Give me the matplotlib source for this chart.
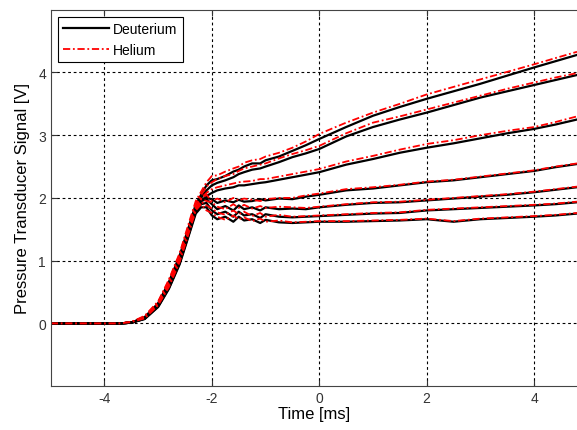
import numpy as np
import matplotlib.pyplot as plt

plt.rcParams['font.family'] = ['Liberation Sans', 'DejaVu Sans']
plt.rcParams['axes.unicode_minus'] = False

# time axis [ms]
t = [-5.0, -3.7, -3.5, -3.25, -3.0, -2.8, -2.6, -2.4,
     -2.3, -2.2, -2.1, -2.0, -1.9, -1.75, -1.6, -1.5, -1.4, -1.25, -1.1, -1.0, -0.75, -0.5, -0.25, 0.0,
     0.5, 1.0, 1.5, 2.0, 2.5, 3.0, 3.5, 4.0, 4.4, 4.8]

# Deuterium shots [V]
d1 = [0, 0, 0.01, 0.10, 0.32, 0.66, 1.08, 1.62,
      1.9, 2.05, 2.2, 2.28, 2.3, 2.35, 2.42, 2.45, 2.5, 2.55, 2.55, 2.6, 2.66, 2.75, 2.84, 2.94,
      3.13, 3.31, 3.45, 3.58, 3.7, 3.82, 3.95, 4.08, 4.18, 4.28]
d2 = [0, 0, 0.01, 0.09, 0.31, 0.64, 1.05, 1.6,
      1.85, 2.0, 2.12, 2.2, 2.24, 2.28, 2.33, 2.38, 2.41, 2.45, 2.47, 2.5, 2.57, 2.65, 2.71, 2.78,
      2.98, 3.13, 3.25, 3.36, 3.48, 3.6, 3.7, 3.8, 3.88, 3.96]
d3 = [0, 0, 0.01, 0.09, 0.30, 0.62, 1.02, 1.56,
      1.82, 1.95, 2.03, 2.08, 2.12, 2.15, 2.17, 2.2, 2.2, 2.22, 2.24, 2.25, 2.29, 2.33, 2.37, 2.41,
      2.53, 2.62, 2.72, 2.8, 2.87, 2.95, 3.03, 3.1, 3.17, 3.25]
d4 = [0, 0, 0.01, 0.08, 0.29, 0.60, 1.0, 1.54,
      1.8, 1.95, 2.0, 1.98, 1.92, 1.96, 1.93, 1.97, 1.94, 1.95, 1.98, 1.96, 1.99, 1.98, 2.02, 2.05,
      2.12, 2.15, 2.2, 2.25, 2.28, 2.33, 2.38, 2.43, 2.49, 2.54]
d5 = [0, 0, 0.01, 0.08, 0.28, 0.58, 0.98, 1.52,
      1.8, 1.95, 1.98, 1.9, 1.82, 1.87, 1.8, 1.88, 1.82, 1.85, 1.8, 1.85, 1.82, 1.83, 1.82, 1.85,
      1.89, 1.92, 1.93, 1.96, 1.99, 2.02, 2.05, 2.09, 2.13, 2.17]
d6 = [0, 0, 0.01, 0.07, 0.27, 0.56, 0.96, 1.5,
      1.78, 1.9, 1.92, 1.8, 1.74, 1.78, 1.7, 1.78, 1.72, 1.74, 1.68, 1.74, 1.7, 1.69, 1.7, 1.71,
      1.73, 1.75, 1.76, 1.8, 1.82, 1.84, 1.86, 1.88, 1.9, 1.93]
d7 = [0, 0, 0.01, 0.07, 0.26, 0.55, 0.94, 1.48,
      1.75, 1.85, 1.85, 1.72, 1.66, 1.7, 1.62, 1.7, 1.64, 1.66, 1.6, 1.65, 1.61, 1.6, 1.61, 1.62,
      1.62, 1.63, 1.64, 1.66, 1.62, 1.66, 1.68, 1.7, 1.72, 1.75]

# Helium shots [V]
h1 = [0, 0, 0.02, 0.12, 0.35, 0.70, 1.12, 1.68,
      1.95, 2.1, 2.25, 2.35, 2.36, 2.42, 2.47, 2.5, 2.56, 2.6, 2.62, 2.66, 2.72, 2.8, 2.9, 3.02,
      3.2, 3.36, 3.5, 3.65, 3.77, 3.89, 4.01, 4.13, 4.23, 4.33]
h2 = [0, 0, 0.02, 0.11, 0.34, 0.68, 1.1, 1.65,
      1.9, 2.05, 2.18, 2.25, 2.3, 2.35, 2.38, 2.43, 2.47, 2.5, 2.53, 2.55, 2.63, 2.7, 2.76, 2.83,
      3.03, 3.2, 3.3, 3.41, 3.52, 3.63, 3.74, 3.84, 3.92, 3.99]
h3 = [0, 0, 0.02, 0.10, 0.33, 0.66, 1.06, 1.6,
      1.86, 2.0, 2.08, 2.14, 2.17, 2.2, 2.23, 2.25, 2.26, 2.27, 2.3, 2.3, 2.34, 2.38, 2.42, 2.46,
      2.58, 2.67, 2.77, 2.86, 2.92, 3.0, 3.07, 3.13, 3.21, 3.3]
h4 = [0, 0, 0.02, 0.10, 0.32, 0.64, 1.04, 1.58,
      1.84, 1.98, 2.05, 1.95, 1.99, 1.93, 2.0, 1.96, 1.99, 1.97, 1.95, 1.98, 2.0, 2.0, 2.04, 2.07,
      2.14, 2.17, 2.21, 2.26, 2.29, 2.34, 2.39, 2.44, 2.5, 2.55]
h5 = [0, 0, 0.02, 0.09, 0.31, 0.62, 1.02, 1.56,
      1.84, 1.98, 1.95, 1.93, 1.86, 1.82, 1.9, 1.84, 1.89, 1.83, 1.87, 1.84, 1.86, 1.85, 1.84, 1.86,
      1.9, 1.93, 1.94, 1.97, 2.0, 2.03, 2.06, 2.1, 2.14, 2.18]
h6 = [0, 0, 0.02, 0.09, 0.30, 0.60, 1.0, 1.54,
      1.82, 1.94, 1.88, 1.83, 1.77, 1.73, 1.8, 1.74, 1.78, 1.71, 1.76, 1.7, 1.73, 1.7, 1.71, 1.72,
      1.74, 1.76, 1.77, 1.81, 1.83, 1.85, 1.87, 1.89, 1.91, 1.94]
h7 = [0, 0, 0.02, 0.08, 0.29, 0.58, 0.98, 1.52,
      1.8, 1.9, 1.8, 1.76, 1.7, 1.65, 1.72, 1.66, 1.69, 1.63, 1.67, 1.62, 1.64, 1.61, 1.62, 1.63,
      1.63, 1.64, 1.65, 1.67, 1.63, 1.67, 1.69, 1.71, 1.73, 1.76]

deut = [d1, d2, d3, d4, d5, d6, d7]
hel = [h1, h2, h3, h4, h5, h6, h7]

fig = plt.figure(figsize=(5.77, 4.31), dpi=100)
ax = fig.add_axes([0.088, 0.102, 0.912, 0.873])

for i in range(len(deut)):
    ax.plot(t, deut[i], color='k', lw=1.6, label='Deuterium' if i == 0 else None)
    ax.plot(t, hel[i], color='r', ls=(0, (4, 1.5, 1, 1.5)), lw=1.3,
            label='Helium' if i == 0 else None)

ax.set_xlim(-5, 4.8)
ax.set_ylim(-1, 5)
ax.set_xticks([-4, -2, 0, 2, 4])
ax.set_yticks([0, 1, 2, 3, 4])
ax.grid(True, color='k', ls=(0, (2.5, 2.5)), lw=0.8)
ax.tick_params(direction='in', top=True, length=4, labelsize=10, colors='#333333')
for s in ['left', 'bottom', 'top']:
    ax.spines[s].set_color('#444444')
ax.spines['right'].set_visible(False)

ax.set_xlabel('Time [ms]', fontsize=12, labelpad=1)
ax.set_ylabel('Pressure Transducer Signal [V]', fontsize=12, labelpad=6)

leg = ax.legend(loc='upper left', fontsize=10, fancybox=False, framealpha=1,
                edgecolor='k', borderaxespad=0.5, handlelength=3.3, handletextpad=0.3,
                borderpad=0.4, labelspacing=0.45)
leg.get_frame().set_linewidth(0.8)

plt.savefig('out.png', dpi=100)
